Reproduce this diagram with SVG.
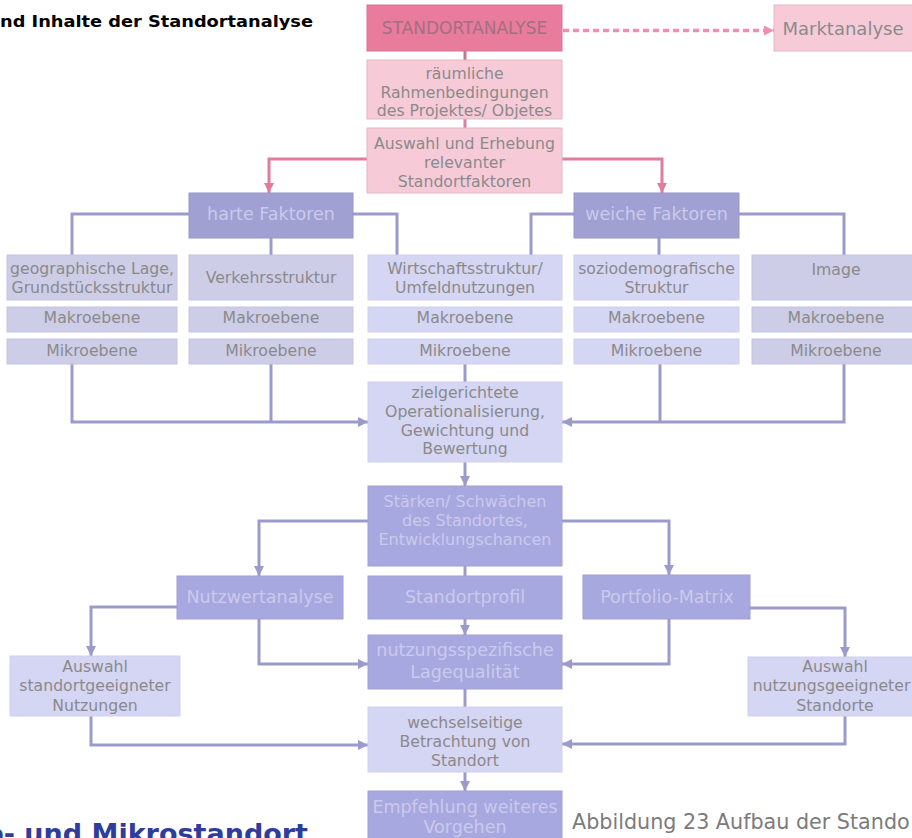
<svg xmlns="http://www.w3.org/2000/svg" width="912" height="838" viewBox="0 0 912 838">
<style>
  text { font-family: "DejaVu Sans", "Liberation Sans", sans-serif; text-anchor: middle; }
  .t { font-size: 15.7px; fill: #8a8a8a; }
  .td { font-size: 17.5px; fill: #cacaec; }
  .pd { fill: #e97b9d; stroke: #dc7093; stroke-width: 1; }
  .pl { fill: #f7cad8; stroke: #e6b6c6; stroke-width: 1; }
  .ld { fill: #a0a0d2; stroke: #9696c6; stroke-width: 1; }
  .lm { fill: #a8a8e0; stroke: #a0a0d6; stroke-width: 1; }
  .ll { fill: #d5d5f4; stroke: #d0d0ee; stroke-width: 1; }
  .lg { fill: #cdcde8; stroke: #c4c4e0; stroke-width: 1; }
  .c { fill: none; stroke: #9b9bcb; stroke-width: 3; }
  .cp { fill: none; stroke: #e07c9e; stroke-width: 3; }
</style>
<defs>
  <marker id="aL" viewBox="0 0 10 10" refX="10" refY="5" markerWidth="10" markerHeight="10" markerUnits="userSpaceOnUse" orient="auto">
    <path d="M0,0 L10,5 L0,10 z" fill="#9b9bcb"/>
  </marker>
  <marker id="aP" viewBox="0 0 10 10" refX="10" refY="5" markerWidth="10" markerHeight="10" markerUnits="userSpaceOnUse" orient="auto">
    <path d="M0,0 L10,5 L0,10 z" fill="#e07c9e"/>
  </marker>
  <marker id="aD" viewBox="0 0 10 10" refX="10" refY="5" markerWidth="10" markerHeight="10" markerUnits="userSpaceOnUse" orient="auto">
    <path d="M0,0 L10,5 L0,10 z" fill="#f08db2"/>
  </marker>
</defs>
<rect width="912" height="838" fill="#ffffff"/>

<text x="0" y="26.5" style="text-anchor:start;font-weight:bold;font-size:16.5px;fill:#000" textLength="313" lengthAdjust="spacingAndGlyphs">nd Inhalte der Standortanalyse</text>

<g id="connectors">
  <line x1="465" y1="51" x2="465" y2="60" stroke="#c07890" stroke-width="3"/>
  <line x1="465" y1="119" x2="465" y2="128" stroke="#e07c9e" stroke-width="3"/>
  <path class="cp" d="M367,159 H269 V193" marker-end="url(#aP)"/>
  <path class="cp" d="M562,159 H662 V193" marker-end="url(#aP)"/>
  <path d="M563,30.5 H774" fill="none" stroke="#f08db2" stroke-width="3.5" stroke-dasharray="6 4" marker-end="url(#aD)"/>

  <path class="c" d="M189,214 H72 V255"/>
  <path class="c" d="M271,238 V255"/>
  <path class="c" d="M353,214 H397 V255"/>
  <path class="c" d="M574,214 H531 V255"/>
  <path class="c" d="M659,238 V255"/>
  <path class="c" d="M739,214 H844 V255"/>

  <path class="c" d="M72,364 V422 H368" marker-end="url(#aL)"/>
  <path class="c" d="M271,364 V422"/>
  <path class="c" d="M465,364 V382"/>
  <path class="c" d="M660,364 V422"/>
  <path class="c" d="M844,364 V422 H562" marker-end="url(#aL)"/>

  <path class="c" d="M465,462 V486" marker-end="url(#aL)"/>
  <path class="c" d="M368,521 H259 V576" marker-end="url(#aL)"/>
  <path class="c" d="M562,521 H669 V575" marker-end="url(#aL)"/>
  <path class="c" d="M465,566 V576"/>
  <path class="c" d="M465,619 V635" marker-end="url(#aL)"/>

  <path class="c" d="M177,607 H91 V656" marker-end="url(#aL)"/>
  <path class="c" d="M259,619 V664 H368" marker-end="url(#aL)"/>
  <path class="c" d="M750,608 H845 V657" marker-end="url(#aL)"/>
  <path class="c" d="M669,619 V664 H562" marker-end="url(#aL)"/>
  <path class="c" d="M465,689 V707"/>

  <path class="c" d="M91,716 V745 H368" marker-end="url(#aL)"/>
  <path class="c" d="M845,716 V744 H562" marker-end="url(#aL)"/>
  <path class="c" d="M465,772 V791" marker-end="url(#aL)"/>
</g>

<g id="standortanalyse">
  <rect class="pd" x="367" y="5" width="195" height="46"/>
  <text x="464.5" y="33.5" style="font-size:17px;fill:#a2707f">STANDORTANALYSE</text>
</g>
<g id="marktanalyse">
  <rect class="pl" x="774" y="5" width="145" height="46"/>
  <text x="843" y="35" style="font-size:18px;fill:#8a8a8a">Marktanalyse</text>
</g>
<g id="rahmen">
  <rect class="pl" x="367" y="60" width="195" height="59"/>
  <text class="t" x="464.5" y="79">räumliche</text>
  <text class="t" x="464.5" y="97.5">Rahmenbedingungen</text>
  <text class="t" x="464.5" y="116">des Projektes/ Objetes</text>
</g>
<g id="auswahl-erhebung">
  <rect class="pl" x="367" y="128" width="195" height="65"/>
  <text class="t" x="464.5" y="149">Auswahl und Erhebung</text>
  <text class="t" x="464.5" y="168">relevanter</text>
  <text class="t" x="464.5" y="187">Standortfaktoren</text>
</g>

<g id="harte">
  <rect class="ld" x="189" y="193" width="164" height="45"/>
  <text class="td" x="271" y="220">harte Faktoren</text>
</g>
<g id="weiche">
  <rect class="ld" x="574" y="193" width="165" height="45"/>
  <text class="td" x="656.5" y="220">weiche Faktoren</text>
</g>

<g id="geo">
  <rect class="lg" x="7" y="255" width="170" height="45"/>
  <text class="t" x="92" y="274">geographische Lage,</text>
  <text class="t" x="92" y="293">Grundstücksstruktur</text>
  <rect class="lg" x="7" y="307" width="170" height="25"/>
  <text class="t" x="92" y="323">Makroebene</text>
  <rect class="lg" x="7" y="339" width="170" height="25"/>
  <text class="t" x="92" y="356">Mikroebene</text>
</g>
<g id="verkehr">
  <rect class="lg" x="189" y="255" width="164" height="45"/>
  <text class="t" x="271" y="283">Verkehrsstruktur</text>
  <rect class="lg" x="189" y="307" width="164" height="25"/>
  <text class="t" x="271" y="323">Makroebene</text>
  <rect class="lg" x="189" y="339" width="164" height="25"/>
  <text class="t" x="271" y="356">Mikroebene</text>
</g>
<g id="wirtschaft">
  <rect class="ll" x="368" y="255" width="194" height="45"/>
  <text class="t" x="465" y="274">Wirtschaftsstruktur/</text>
  <text class="t" x="465" y="293">Umfeldnutzungen</text>
  <rect class="ll" x="368" y="307" width="194" height="25"/>
  <text class="t" x="465" y="323">Makroebene</text>
  <rect class="ll" x="368" y="339" width="194" height="25"/>
  <text class="t" x="465" y="356">Mikroebene</text>
</g>
<g id="sozio">
  <rect class="ll" x="574" y="255" width="165" height="45"/>
  <text class="t" x="656.5" y="274">soziodemografische</text>
  <text class="t" x="656.5" y="293">Struktur</text>
  <rect class="ll" x="574" y="307" width="165" height="25"/>
  <text class="t" x="656.5" y="323">Makroebene</text>
  <rect class="ll" x="574" y="339" width="165" height="25"/>
  <text class="t" x="656.5" y="356">Mikroebene</text>
</g>
<g id="image">
  <rect class="lg" x="752" y="255" width="168" height="45"/>
  <text class="t" x="836" y="275">Image</text>
  <rect class="lg" x="752" y="307" width="168" height="25"/>
  <text class="t" x="836" y="323">Makroebene</text>
  <rect class="lg" x="752" y="339" width="168" height="25"/>
  <text class="t" x="836" y="356">Mikroebene</text>
</g>

<g id="zielgerichtete">
  <rect class="ll" x="368" y="382" width="194" height="80"/>
  <text class="t" x="465" y="397.5">zielgerichtete</text>
  <text class="t" x="465" y="416.5">Operationalisierung,</text>
  <text class="t" x="465" y="435.5">Gewichtung und</text>
  <text class="t" x="465" y="454">Bewertung</text>
</g>
<g id="staerken">
  <rect class="lm" x="368" y="486" width="194" height="80"/>
  <text class="td" x="465" y="506.5" style="font-size:16px">Stärken/ Schwächen</text>
  <text class="td" x="465" y="525.5" style="font-size:16px">des Standortes,</text>
  <text class="td" x="465" y="544.5" style="font-size:16px">Entwicklungschancen</text>
</g>
<g id="nutzwert">
  <rect class="lm" x="177" y="576" width="166" height="43"/>
  <text class="td" x="260" y="603">Nutzwertanalyse</text>
</g>
<g id="profil">
  <rect class="lm" x="368" y="576" width="194" height="43"/>
  <text class="td" x="465" y="603">Standortprofil</text>
</g>
<g id="portfolio">
  <rect class="lm" x="583" y="575" width="167" height="44"/>
  <text class="td" x="667" y="603">Portfolio-Matrix</text>
</g>
<g id="lagequalitaet">
  <rect class="lm" x="368" y="635" width="194" height="54"/>
  <text class="td" x="465" y="656">nutzungsspezifische</text>
  <text class="td" x="465" y="678">Lagequalität</text>
</g>
<g id="auswahl-nutzungen">
  <rect class="ll" x="10" y="656" width="170" height="60"/>
  <text class="t" x="95" y="671.5">Auswahl</text>
  <text class="t" x="95" y="691">standortgeeigneter</text>
  <text class="t" x="95" y="710.5">Nutzungen</text>
</g>
<g id="auswahl-standorte">
  <rect class="ll" x="748" y="657" width="170" height="59"/>
  <text class="t" x="835" y="672">Auswahl</text>
  <text class="t" x="831.5" y="691">nutzungsgeeigneter</text>
  <text class="t" x="835" y="711">Standorte</text>
</g>
<g id="wechselseitige">
  <rect class="ll" x="368" y="707" width="194" height="65"/>
  <text class="t" x="465" y="728">wechselseitige</text>
  <text class="t" x="465" y="747">Betrachtung von</text>
  <text class="t" x="465" y="766">Standort</text>
</g>
<g id="empfehlung">
  <rect class="lm" x="368" y="791" width="194" height="52"/>
  <text class="td" x="465" y="813">Empfehlung weiteres</text>
  <text class="td" x="465" y="833">Vorgehen</text>
</g>

<text x="572" y="829" style="text-anchor:start;font-size:20.7px;fill:#7b7b7b">Abbildung 23 Aufbau der Stando</text>
<text x="308" y="843" style="text-anchor:end;font-weight:bold;font-size:27px;fill:#2e3d9c">o- und Mikrostandort</text>
</svg>
